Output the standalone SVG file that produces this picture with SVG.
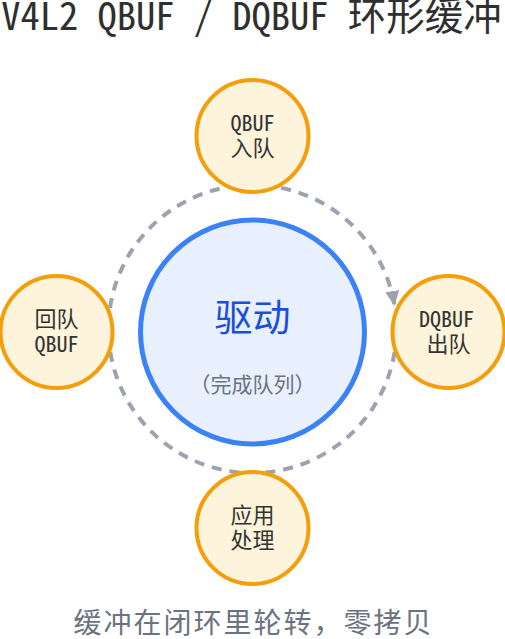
<svg xmlns="http://www.w3.org/2000/svg" width="505" height="639" viewBox="0 0 505 639">
<style>
text{font-family:"Noto Sans Mono CJK SC","Noto Sans CJK SC","DejaVu Sans Mono",monospace;text-anchor:middle}
.title{font-size:38.5px;fill:#2f2f2f}
.node circle{fill:#FEF3DB;stroke:#F59E0B;stroke-width:4}
.node text{font-size:22px;fill:#333333}
.ring{fill:none;stroke:#9CA3AF;stroke-width:4;stroke-dasharray:10 8}
.caption{font-size:28px;letter-spacing:2px;fill:#6B7280}
</style>
<defs>
<marker id="arrow" markerUnits="userSpaceOnUse" markerWidth="16" markerHeight="14" refX="15" refY="7" orient="auto">
<path d="M0,0 L15,7 L0,14 z" fill="#9CA3AF"/>
</marker>
</defs>
<rect width="505" height="639" fill="#FFFFFF"/>
<text class="title" x="251.5" y="30">V4L2 QBUF / DQBUF 环形缓冲</text>
<g id="connectors">
<path class="ring" d="M394.6,352 A144,144 0 1 1 394.6,306" marker-end="url(#arrow)"/>
</g>
<g id="driver">
<circle cx="252.5" cy="332" r="112" fill="#E8F0FE" stroke="#3B82F6" stroke-width="5"/>
<text x="252.5" y="331" style="font-size:38px;fill:#1D4ED8">驱动</text>
<text x="252.5" y="392" style="font-size:21px;fill:#6B7280">（完成队列）</text>
</g>
<g id="node-qbuf" class="node">
<circle cx="252.5" cy="136" r="56"/>
<text x="252.5" y="131">QBUF</text>
<text x="252.5" y="156">入队</text>
</g>
<g id="node-dqbuf" class="node">
<circle cx="448.5" cy="332" r="56"/>
<text x="446.5" y="327">DQBUF</text>
<text x="448.5" y="352">出队</text>
</g>
<g id="node-app" class="node">
<circle cx="252.5" cy="528" r="56"/>
<text x="252.5" y="523">应用</text>
<text x="252.5" y="548">处理</text>
</g>
<g id="node-requeue" class="node">
<circle cx="56.5" cy="332" r="56"/>
<text x="56.5" y="327">回队</text>
<text x="56.5" y="352">QBUF</text>
</g>
<text class="caption" x="253.5" y="633">缓冲在闭环里轮转，零拷贝</text>
</svg>
